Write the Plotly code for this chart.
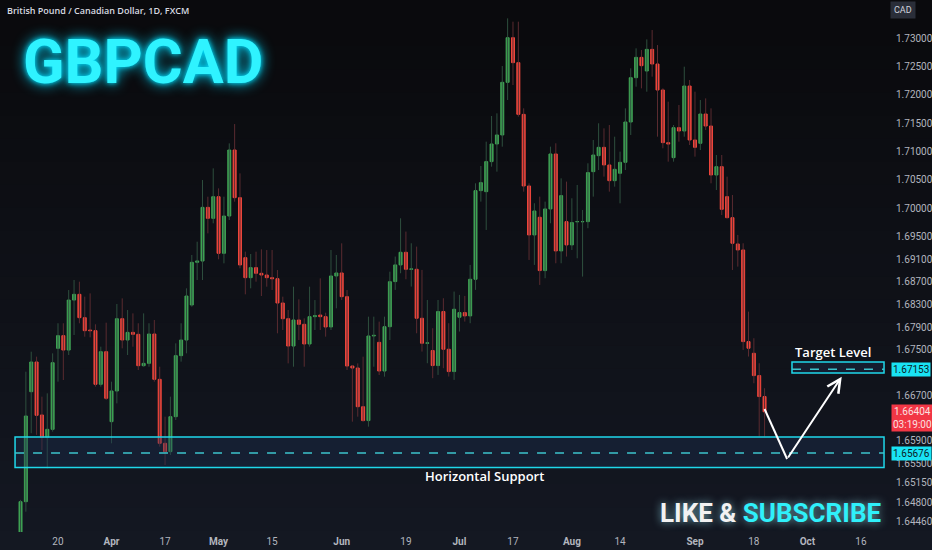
import pandas as pd
import plotly.graph_objects as go

# daily GBPCAD candles (FXCM)
start_date = '2023-03-09'

open_ = [1.64277, 1.64818, 1.66759, 1.67283, 1.66348, 1.65954, 1.66095, 1.67524, 1.67748, 1.67494,
         1.68376, 1.68477, 1.68065, 1.67847, 1.67836, 1.66889, 1.67465, 1.66230, 1.66771, 1.68047,
         1.67671, 1.67806, 1.67771, 1.67218, 1.67259, 1.67777, 1.66977, 1.65848, 1.65701, 1.66318,
         1.67395, 1.67671, 1.68289, 1.69042, 1.69065, 1.70012, 1.69818, 1.70200, 1.69201, 1.69859,
         1.71024, 1.70183, 1.69124, 1.68771, 1.68948, 1.68848, 1.68818, 1.68771, 1.68753, 1.68324,
         1.68047, 1.67565, 1.68024, 1.67948, 1.67601, 1.68083, 1.68112, 1.68083, 1.67901, 1.68801,
         1.68854, 1.68436, 1.67212, 1.67177, 1.66494, 1.66249, 1.67742, 1.67630, 1.67124, 1.67906,
         1.68702, 1.68996, 1.69219, 1.68919, 1.68919, 1.68055, 1.67614, 1.67485, 1.67220, 1.68173,
         1.67508, 1.67114, 1.68073, 1.68155, 1.68096, 1.68743, 1.70307, 1.70289, 1.70819, 1.71130,
         1.71289, 1.72218, 1.73006, 1.72565, 1.71653, 1.70389, 1.69525, 1.69837, 1.68896, 1.69984,
         1.70954, 1.69243, 1.69760, 1.69349, 1.69760, 1.69760, 1.69760, 1.70642, 1.70924, 1.71071,
         1.70760, 1.70483, 1.70613, 1.70807, 1.71518, 1.72300, 1.72659, 1.72418, 1.72800, 1.72541,
         1.72083, 1.71154, 1.70889, 1.71418, 1.71359, 1.72153, 1.71201, 1.71142, 1.71659, 1.71447,
         1.70583, 1.70730, 1.70201, 1.69830, 1.69366, 1.69260, 1.67643, 1.67437, 1.67043, 1.66673]

high = [1.64850, 1.67112, 1.67465, 1.67377, 1.66671, 1.66730, 1.67436, 1.67966, 1.67966, 1.68553,
        1.68730, 1.68700, 1.68436, 1.68494, 1.67948, 1.67553, 1.67977, 1.66936, 1.68306, 1.68406,
        1.68200, 1.68141, 1.67966, 1.68141, 1.67966, 1.68024, 1.67200, 1.66318, 1.66671, 1.67612,
        1.67966, 1.68583, 1.69171, 1.69406, 1.70494, 1.70200, 1.70700, 1.70347, 1.70200, 1.71141,
        1.71482, 1.70612, 1.69230, 1.69189, 1.69230, 1.69271, 1.69259, 1.69259, 1.68906, 1.68436,
        1.68200, 1.68612, 1.68389, 1.68053, 1.68612, 1.68376, 1.68759, 1.68153, 1.69259, 1.69171,
        1.69377, 1.68553, 1.67230, 1.67259, 1.67377, 1.68083, 1.68083, 1.67995, 1.68083, 1.68877,
        1.69143, 1.69819, 1.69584, 1.69378, 1.69319, 1.68908, 1.68378, 1.67879, 1.68378, 1.68408,
        1.67967, 1.68526, 1.68467, 1.68449, 1.68996, 1.70436, 1.70742, 1.71171, 1.71624, 1.71671,
        1.72506, 1.73347, 1.73288, 1.73288, 1.71759, 1.70436, 1.70084, 1.70201, 1.70113, 1.71083,
        1.71142, 1.70524, 1.70466, 1.70172, 1.70407, 1.69966, 1.70789, 1.71201, 1.71495, 1.71406,
        1.71465, 1.71259, 1.70995, 1.71759, 1.72465, 1.72818, 1.72788, 1.72976, 1.73141, 1.72876,
        1.72112, 1.71877, 1.71465, 1.71818, 1.72494, 1.72259, 1.72053, 1.71906, 1.71935, 1.71759,
        1.70936, 1.70936, 1.70554, 1.70230, 1.69525, 1.69378, 1.68172, 1.67702, 1.67261, 1.66820]

low = [1.64250, 1.64642, 1.66026, 1.65997, 1.65730, 1.65406, 1.66054, 1.66936, 1.66965, 1.67406,
       1.67759, 1.67966, 1.67730, 1.67718, 1.66848, 1.66848, 1.66612, 1.65848, 1.66553, 1.67524,
       1.67406, 1.67553, 1.67141, 1.67200, 1.67200, 1.66936, 1.65789, 1.65465, 1.65642, 1.66259,
       1.67289, 1.67436, 1.68259, 1.68730, 1.68730, 1.69553, 1.69730, 1.69095, 1.69024, 1.69789,
       1.70112, 1.68936, 1.68477, 1.68583, 1.68700, 1.68447, 1.68612, 1.68553, 1.67789, 1.67847,
       1.67259, 1.67200, 1.67671, 1.67200, 1.67553, 1.67847, 1.67847, 1.67730, 1.67847, 1.68230,
       1.68376, 1.67141, 1.66230, 1.66318, 1.66230, 1.66142, 1.67200, 1.67053, 1.67024, 1.67671,
       1.68555, 1.68849, 1.68743, 1.68614, 1.67790, 1.67467, 1.67261, 1.66997, 1.67055, 1.67173,
       1.67026, 1.66967, 1.67820, 1.67996, 1.67967, 1.68555, 1.70113, 1.69613, 1.70730, 1.70642,
       1.71083, 1.71906, 1.72171, 1.71612, 1.70289, 1.69084, 1.68996, 1.68643, 1.68761, 1.69731,
       1.69025, 1.69025, 1.69143, 1.69260, 1.69113, 1.68790, 1.69643, 1.70201, 1.70671, 1.70554,
       1.70289, 1.70377, 1.70083, 1.70671, 1.71289, 1.72141, 1.72112, 1.72053, 1.72318, 1.71259,
       1.71054, 1.70818, 1.70818, 1.71171, 1.71259, 1.71112, 1.70907, 1.71024, 1.71377, 1.70436,
       1.70318, 1.69877, 1.69818, 1.68907, 1.68966, 1.67496, 1.67379, 1.66908, 1.65967, 1.65967]

close = [1.64818, 1.66330, 1.67283, 1.66342, 1.65954, 1.66095, 1.67271, 1.67748, 1.67494, 1.68376,
         1.68477, 1.68065, 1.67836, 1.67836, 1.66889, 1.67465, 1.66642, 1.66771, 1.68047, 1.67671,
         1.67806, 1.67771, 1.67218, 1.67259, 1.67777, 1.66977, 1.65848, 1.65701, 1.66318, 1.67395,
         1.67671, 1.68447, 1.69042, 1.69065, 1.70012, 1.69818, 1.70200, 1.69201, 1.69859, 1.71024,
         1.70183, 1.68995, 1.68771, 1.68948, 1.68848, 1.68818, 1.68771, 1.68753, 1.68324, 1.68047,
         1.67565, 1.68024, 1.67948, 1.67601, 1.68083, 1.68100, 1.68083, 1.67901, 1.68801, 1.68854,
         1.68436, 1.67212, 1.67177, 1.66494, 1.66249, 1.67742, 1.67753, 1.67124, 1.67906, 1.68700,
         1.68996, 1.69219, 1.68919, 1.68925, 1.68055, 1.67614, 1.67620, 1.67220, 1.68173, 1.67508,
         1.67114, 1.68214, 1.68155, 1.68096, 1.68743, 1.70307, 1.70448, 1.70819, 1.71130, 1.71289,
         1.72218, 1.73006, 1.72565, 1.71653, 1.70389, 1.69525, 1.69948, 1.68896, 1.69984, 1.70954,
         1.69243, 1.70219, 1.69349, 1.69743, 1.69760, 1.69760, 1.70625, 1.70936, 1.71071, 1.70760,
         1.70483, 1.70683, 1.70807, 1.71518, 1.72300, 1.72659, 1.72512, 1.72800, 1.72541, 1.72083,
         1.71154, 1.71130, 1.71418, 1.71359, 1.72153, 1.71201, 1.71071, 1.71659, 1.71447, 1.70583,
         1.70730, 1.69977, 1.69830, 1.69378, 1.69260, 1.67643, 1.67526, 1.67043, 1.66673, 1.66404]

price_ticks = [1.73, 1.725, 1.72, 1.715, 1.71, 1.705, 1.70, 1.695, 1.691, 1.687, 1.683,
               1.679, 1.675, 1.667, 1.659, 1.655, 1.6515, 1.648, 1.6446]

date_ticks = ['2023-03-20', '2023-04-03', '2023-04-17', '2023-05-01', '2023-05-15',
              '2023-06-01', '2023-06-19', '2023-07-03', '2023-07-17', '2023-08-01',
              '2023-08-14', '2023-09-01', '2023-09-18', '2023-10-02', '2023-10-16']
date_labels = ['20', '<b>Apr</b>', '17', '<b>May</b>', '15', '<b>Jun</b>', '19', '<b>Jul</b>',
               '17', '<b>Aug</b>', '14', '<b>Sep</b>', '18', '<b>Oct</b>', '16']

support_level = 1.65676
support_zone = (1.65421, 1.65959)
target_level = 1.67153
target_zone = (1.67089, 1.67283)
last_price = 1.66404
countdown = '03:19:00'

# projected path drawn on the chart: last bar -> dip into support -> target
path_start = ('2023-09-20', 1.66453)
path_dip = ('2023-09-26 05:00', 1.65571)
path_end = ('2023-10-10 10:00', 1.67023)

dates = pd.bdate_range(start_date, periods=len(close))

UP = '#3fa354'
DOWN = '#f0463c'
CYAN = '#1fd8ea'
BIG_FONT = 'Roboto'

fig = go.Figure()

# dim wicks, split by direction
for up, color in [(True, '#2e4f3e'), (False, '#5a2b30')]:
    wx, wy = [], []
    for d, o, h, l, c in zip(dates, open_, high, low, close):
        if (c >= o) == up:
            wx += [d, d, None]
            wy += [l, h, None]
    fig.add_trace(go.Scatter(x=wx, y=wy, mode='lines', line=dict(color=color, width=1),
                             hoverinfo='skip', showlegend=False))

# bodies only (wick span clamped to the body)
fig.add_trace(go.Candlestick(
    x=dates,
    open=open_,
    close=close,
    high=[max(o, c) for o, c in zip(open_, close)],
    low=[min(o, c) for o, c in zip(open_, close)],
    increasing=dict(fillcolor=UP, line=dict(color=UP, width=1)),
    decreasing=dict(fillcolor=DOWN, line=dict(color=DOWN, width=1)),
    showlegend=False,
))

# background gradient
shapes = []
n_bands = 24
top_rgb = (10, 10, 13)
bot_rgb = (20, 24, 34)
for i in range(n_bands):
    t = i / (n_bands - 1)
    rgb = tuple(int(a + (b - a) * t) for a, b in zip(top_rgb, bot_rgb))
    y1 = 1.0 - i * 1.04 / n_bands
    shapes.append(dict(type='rect', xref='paper', yref='paper', x0=0, x1=1.06,
                       y0=y1 - 1.04 / n_bands - 0.002, y1=y1, layer='below',
                       fillcolor='rgb(%d,%d,%d)' % rgb, line=dict(width=0)))

# zones
for (lo, hi), x0 in [(support_zone, 0.0170), (target_zone, 0.8949)]:
    shapes.append(dict(type='rect', xref='paper', yref='y', x0=x0, x1=0.9989,
                       y0=lo, y1=hi, fillcolor='rgba(28,52,90,0.35)',
                       line=dict(color=CYAN, width=1.5), layer='above'))
for lvl, x0 in [(support_level, 0.0170), (target_level, 0.8949)]:
    shapes.append(dict(type='line', xref='paper', yref='y', x0=x0, x1=0.9989,
                       y0=lvl, y1=lvl, line=dict(color='#3cc3cc', width=1.5, dash='dash')))

shapes.append(dict(type='line', xref='x', yref='y',
                   x0=path_start[0], y0=path_start[1], x1=path_dip[0], y1=path_dip[1],
                   line=dict(color='white', width=2)))

annotations = [
    dict(x=path_end[0], y=path_end[1], ax=path_dip[0], ay=path_dip[1],
         xref='x', yref='y', axref='x', ayref='y', text='', showarrow=True,
         arrowhead=5, arrowsize=1.3, arrowwidth=2, arrowcolor='white', standoff=0),
    dict(x=0.006, y=0.981, xref='paper', yref='paper', xanchor='left', yanchor='middle',
         text='British Pound / Canadian Dollar, 1D, FXCM', showarrow=False,
         font=dict(family='Open Sans', size=9, color='#d8dae0', weight=600)),
    dict(x=0.024, y=0.884, xref='paper', yref='paper', xanchor='left', yanchor='middle',
         text='GBPCAD', showarrow=False,
         font=dict(family=BIG_FONT, size=61, color='#2ff3ff', weight='bold',
                   shadow='0 0 14px #00d9ff, 0 0 5px #00e5ff')),
    dict(x=0.9978, y=0.036, xref='paper', yref='paper', xanchor='right', yanchor='middle',
         text='LIKE & <span style="color:#2ff0fa">SUBSCRIBE</span>', showarrow=False,
         font=dict(family=BIG_FONT, size=26, color='#f2f2f2', weight='bold',
                   shadow='0 0 8px rgba(150,225,240,0.75)')),
    dict(x=0.547, y=1.65271, xref='paper', yref='y', xanchor='center', text='Horizontal Support',
         showarrow=False, font=dict(family='Open Sans', size=13, color='white', weight=600)),
    dict(x=0.941, y=1.67459, xref='paper', yref='y', xanchor='center', text='Target Level',
         showarrow=False, font=dict(family='Open Sans', size=13, color='white', weight=600)),
    dict(x=1, y=0.981, xref='paper', yref='paper', xanchor='left', yanchor='middle',
         xshift=5, text='CAD', showarrow=False, bgcolor='#2a2e39', borderpad=3,
         font=dict(family='Roboto', size=9, color='#d1d4dc')),
    dict(x=1, y=target_level, xref='paper', yref='y', xanchor='left', yanchor='middle',
         xshift=6, text='%.5f' % target_level, showarrow=False, bgcolor='#19e3f3', borderpad=1,
         font=dict(family='Roboto', size=10, color='#0d1b26')),
    dict(x=1, y=support_level, xref='paper', yref='y', xanchor='left', yanchor='middle',
         xshift=6, text='%.5f' % support_level, showarrow=False, bgcolor='#19e3f3', borderpad=1,
         font=dict(family='Roboto', size=10, color='#0d1b26')),
    dict(x=1, y=last_price, xref='paper', yref='y', xanchor='left', yanchor='top',
         xshift=6, yshift=8, text='%.5f<br>%s' % (last_price, countdown), showarrow=False,
         bgcolor='#f23645', borderpad=1, align='center',
         font=dict(family='Roboto', size=10, color='#fbe0e0')),
]

fig.update_layout(
    width=932,
    height=550,
    margin=dict(l=0, r=47, t=0, b=18),
    paper_bgcolor='#0f1117',
    plot_bgcolor='rgba(0,0,0,0)',
    showlegend=False,
    boxgap=0.2,
    shapes=shapes,
    annotations=annotations,
    xaxis=dict(
        type='date',
        rangebreaks=[dict(bounds=['sat', 'mon'])],
        range=['2023-03-03 04:00', '2023-10-20 12:00'],
        rangeslider=dict(visible=False),
        showgrid=False, zeroline=False, showline=False,
        tickvals=date_ticks, ticktext=date_labels,
        ticklabelstandoff=2,
        tickfont=dict(family='Roboto', size=10, color='#b2b5be'),
    ),
    yaxis=dict(
        side='right',
        range=[1.64283, 1.73671],
        showgrid=False, zeroline=False, showline=False,
        tickvals=price_ticks, tickformat='.5f',
        ticklabelstandoff=10,
        tickfont=dict(family='Roboto', size=10, color='#b2b5be'),
    ),
)

# page margin off so the 932x550 figure fills the window
fig.write_html('out.html', config={'displayModeBar': False},
               post_script="document.body.style.margin='0';")
